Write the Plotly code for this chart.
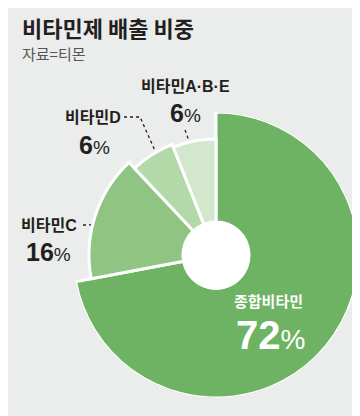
import math
import plotly.graph_objects as go

# ---- data ----
categories = ["종합비타민", "비타민C", "비타민D", "비타민A·B·E"]
shares = [72, 16, 6, 6]

# ---- style ----
colors = ["#6db363", "#90c483", "#b4d9a9", "#d2e7cb"]
reach = [110, 94, 86, 83]          # radial length of each wedge (design emphasis)
BG = "#ebecec"
DARK = "#231f20"
W, H = 360, 416
CX, CY = 208, 247                  # pie centre in px
R_OUT, R_HOLE = 143, 33

# angular geometry from the data
total = sum(shares)
widths = [s / total * 360 for s in shares]
starts = []
acc = 0
for w in widths:
    starts.append(acc)
    acc += w
mids = [s + w / 2 for s, w in zip(starts, widths)]

fig = go.Figure()

fig.add_trace(go.Barpolar(
    r=reach, theta=mids, width=widths,
    marker=dict(color=colors, line=dict(color="white", width=3)),
    hoverinfo="skip", showlegend=False,
))

dom_x = [(CX - R_OUT) / W, (CX + R_OUT) / W]
dom_y = [(H - CY - R_OUT) / H, (H - CY + R_OUT) / H]

fig.update_layout(
    width=W, height=H,
    margin=dict(l=0, r=0, t=0, b=0),
    paper_bgcolor=BG, plot_bgcolor="rgba(0,0,0,0)",
    polar=dict(
        domain=dict(x=dom_x, y=dom_y),
        hole=R_HOLE / R_OUT,
        bgcolor="rgba(0,0,0,0)",
        radialaxis=dict(range=[0, R_OUT - R_HOLE], visible=False),
        angularaxis=dict(rotation=90, direction="clockwise", visible=False,
                         showgrid=False, showline=False, ticks=""),
    ),
    xaxis=dict(range=[0, W], domain=[0, 1], visible=False, fixedrange=True),
    yaxis=dict(range=[H, 0], domain=[0, 1], visible=False, fixedrange=True),
)

# helper: position along a wedge's mid-angle, in px
def polar_px(theta_deg, r_px):
    t = math.radians(theta_deg)
    return CX + r_px * math.sin(t), CY - r_px * math.cos(t)

# white centre hole
fig.add_shape(type="circle", xref="x", yref="y",
              x0=CX - R_HOLE - 1, x1=CX + R_HOLE + 1,
              y0=CY - R_HOLE - 1, y1=CY + R_HOLE + 2,
              fillcolor="white", line=dict(width=0), layer="above")

# leader lines and dots
dot_r = {1: 98, 2: 91, 3: 85}
elbows = {1: [(75, 217)], 2: [(116, 109), (132, 109)], 3: [(177, 122)]}
dx, dy = [], []
for i in (1, 2, 3):
    px, py = polar_px(mids[i], dot_r[i])
    xs = [p[0] for p in elbows[i]] + [px]
    ys = [p[1] for p in elbows[i]] + [py]
    fig.add_trace(go.Scatter(x=xs, y=ys, mode="lines",
                             line=dict(color=DARK, width=1.3, dash="dot"),
                             hoverinfo="skip", showlegend=False))
    dx.append(px); dy.append(py)
fig.add_trace(go.Scatter(x=dx, y=dy, mode="markers",
                         marker=dict(color=DARK, size=6),
                         hoverinfo="skip", showlegend=False))

KFONT = "Noto Sans CJK KR"
NFONT = "Liberation Sans"

def ann(x, y, text, size, color=DARK, family=KFONT, xanchor="center"):
    fig.add_annotation(x=x, y=y, xref="x", yref="y", text=text, showarrow=False,
                       xanchor=xanchor, yanchor="middle",
                       font=dict(family=family, size=size, color=color))

def pct(v, small):
    return f"<b>{v}</b><span style='font-size:{small}px'>%</span>"

def name(label):
    # Latin part of the label set in a narrower face, as in the original
    han = "".join(ch for ch in label if "\uac00" <= ch <= "\ud7a3")
    rest = label[len(han):]
    if rest:
        return f"<b>{han}<span style='font-family:Liberation Sans'>{rest}</span></b>"
    return f"<b>{han}</b>"

# titles
ann(12, 19, "<b>비타민제 배출 비중</b>", 22, xanchor="left")
ann(12, 45, "자료=티몬", 15, color="#555555", xanchor="left")

# labels
ann(177, 77, name(categories[3]), 16)
ann(177, 105, pct(shares[3], 19), 25, family=NFONT)
ann(85, 108, name(categories[2]), 16)
ann(86, 137, pct(shares[2], 19), 25, family=NFONT)
ann(41, 216, name(categories[1]), 16)
ann(40, 244, pct(shares[1], 19), 25, family=NFONT)
ann(260, 292, name(categories[0]), 15, color="white")
ann(262, 327, pct(shares[0], 28), 40, color="white", family=NFONT)

fig.write_html("out.html")
